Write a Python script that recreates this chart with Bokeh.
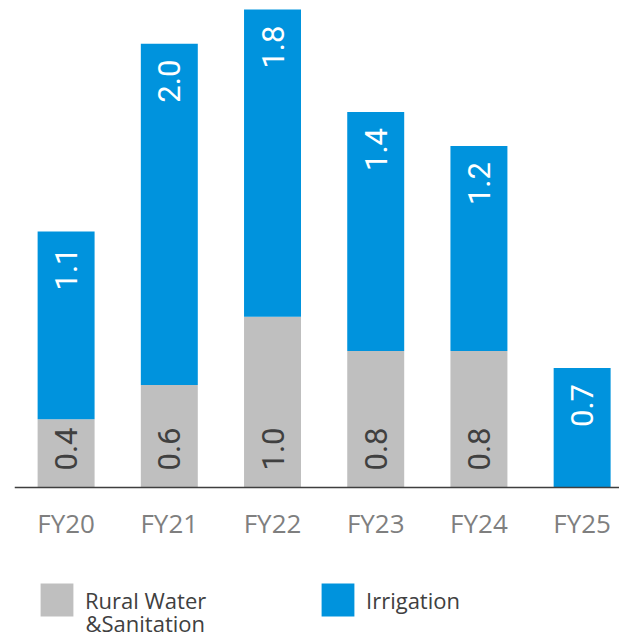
import math
from bokeh.plotting import figure
from bokeh.models import (ColumnDataSource, Range1d, FixedTicker, Legend, LegendItem,
                          Label)
from bokeh.core.properties import value
from bokeh.embed import file_html
from bokeh.resources import INLINE

categories = ["FY20", "FY21", "FY22", "FY23", "FY24", "FY25"]
rural_water = [0.4, 0.6, 1.0, 0.8, 0.8, 0.0]
irrigation = [1.1, 2.0, 1.8, 1.4, 1.2, 0.7]
series_names = [["Rural Water", "&Sanitation"], ["Irrigation"]]
colors = ["#BFBFBF", "#0093DD"]

xs = list(range(len(categories)))
totals = [r + i for r, i in zip(rural_water, irrigation)]

src = ColumnDataSource(dict(
    x=xs,
    rural=rural_water,
    irr=irrigation,
    total=totals,
    rural_lbl=[f"{v:.1f}" if v > 0 else "" for v in rural_water],
    irr_lbl=[f"{v:.1f}" if v > 0 else "" for v in irrigation],
))

# frame spans the whole figure height; baseline (y=0) sits 151 px above the bottom
p = figure(width=619, height=638,
           x_range=Range1d(-0.5, 5.362), y_range=Range1d(-0.8846, 2.853),
           output_backend="svg", toolbar_location=None,
           min_border_left=14, min_border_right=0, min_border_top=0,
           min_border_bottom=0)
p.outline_line_color = None
p.grid.visible = False
p.yaxis.visible = False

r1 = p.vbar(x="x", bottom=0, top="rural", width=0.552, fill_color=colors[0],
            line_color=None, source=src)
r2 = p.vbar(x="x", bottom="rural", top="total", width=0.552, fill_color=colors[1],
            line_color=None, source=src)

p.text(x="x", y=0, text="rural_lbl", angle=math.pi / 2, text_align="left",
       text_baseline="middle", y_offset=-17, text_color="#404040",
       text_font=value("Roboto"), text_font_size="31px", source=src)
p.text(x="x", y="total", text="irr_lbl", angle=math.pi / 2, text_align="right",
       text_baseline="middle", y_offset=16, text_color="white",
       text_font=value("Roboto"), text_font_size="31px", source=src)

ax = p.xaxis[0]
ax.fixed_location = 0
ax.ticker = FixedTicker(ticks=xs)
ax.major_label_overrides = {i: c for i, c in enumerate(categories)}
ax.major_tick_line_color = None
ax.minor_tick_line_color = None
ax.axis_line_color = "#3f3f3f"
ax.axis_line_width = 1.5
ax.major_label_text_font = "Open Sans"
ax.major_label_text_font_size = "26px"
ax.major_label_text_color = "#7f7f7f"
ax.major_label_standoff = 11

legend = Legend(
    items=[LegendItem(label=value(series_names[0][0]), renderers=[r1]),
           LegendItem(label=value(series_names[1][0]), renderers=[r2])],
    location=(22, 18), orientation="horizontal",
    glyph_width=41, glyph_height=41, label_standoff=8, label_width=232,
    padding=0, margin=0, spacing=0, border_line_color=None,
    background_fill_alpha=0, label_text_font="Open Sans",
    label_text_font_size="22px", label_text_color="#404040")
p.add_layout(legend)

# second line of the first legend label
p.add_layout(Label(x=71, y=16, x_units="screen", y_units="screen",
                   text=series_names[0][1], text_font="Open Sans",
                   text_font_size="22px", text_color="#404040",
                   text_baseline="alphabetic"))

open("out.html", "w").write(file_html(p, INLINE))
